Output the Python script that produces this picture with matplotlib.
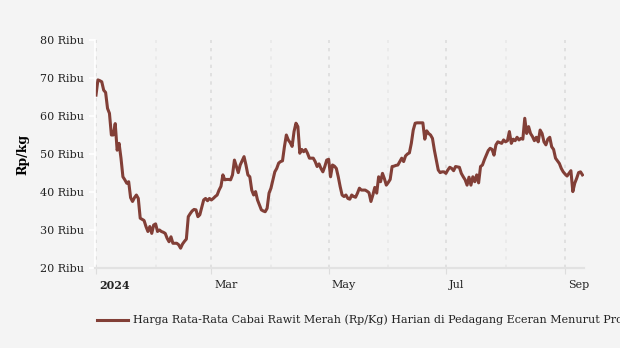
import pandas as pd
import matplotlib
matplotlib.use("Agg")
import matplotlib.pyplot as plt
import matplotlib.dates as mdates
import matplotlib.transforms as mtransforms

plt.rcParams['font.family'] = ['DejaVu Serif']

# daily average price (thousand Rp/kg), 1 Jan 2024 - 10 Sep 2024
start_date = "2024-01-01"
price = [
    65.5, 69.5, 69.3, 69.0, 66.8, 66.2, 62.0, 60.7, 55.0, 55.0,
    58.0, 51.0, 52.8, 48.9, 44.0, 43.2, 42.3, 42.7, 38.5, 37.5,
    38.5, 39.2, 38.3, 33.1, 32.8, 32.5, 30.9, 29.6, 30.9, 29.1,
    31.3, 31.6, 29.6, 30.0, 29.6, 29.4, 29.1, 27.8, 26.9, 28.2,
    26.5, 26.5, 26.5, 26.1, 25.2, 26.3, 27.0, 27.6, 33.5, 34.3,
    35.0, 35.4, 35.3, 33.5, 34.0, 36.0, 37.9, 38.3, 37.7, 38.3,
    37.9, 38.3, 38.8, 39.2, 40.5, 41.5, 44.5, 43.2, 43.3, 43.3,
    43.2, 44.5, 48.4, 46.7, 45.1, 47.1, 48.2, 49.3, 47.1, 44.5,
    44.0, 40.5, 39.2, 40.1, 37.9, 36.6, 35.3, 35.0, 34.8, 35.7,
    39.7, 41.0, 43.2, 45.3, 46.2, 47.6, 48.0, 48.2, 51.9, 55.0,
    53.7, 53.0, 52.0, 55.9, 58.1, 57.2, 50.2, 51.2, 50.6, 51.2,
    50.2, 48.9, 48.9, 48.9, 48.0, 46.7, 47.4, 46.2, 45.3, 46.7,
    48.4, 48.6, 44.0, 47.1, 46.8, 46.2, 44.0, 41.4, 39.2, 38.8,
    39.2, 38.3, 38.1, 39.2, 38.8, 38.6, 39.7, 41.0, 40.5, 40.5,
    40.5, 40.2, 39.8, 37.5, 39.2, 41.2, 39.7, 44.0, 42.7, 44.9,
    43.5, 41.8, 42.5, 43.3, 46.7, 46.8, 47.0, 47.1, 48.0, 48.9,
    48.0, 49.5, 50.0, 50.3, 52.8, 56.3, 58.1, 58.2, 58.2, 58.2,
    58.2, 53.9, 56.1, 55.4, 55.0, 54.1, 51.0, 48.4, 45.8, 45.1,
    45.3, 45.3, 44.9, 45.8, 46.5, 46.2, 45.6, 46.7, 46.6, 46.5,
    44.9, 44.0, 43.2, 41.8, 43.9, 41.8, 44.0, 42.7, 44.5, 42.4,
    46.7, 47.1, 48.5, 49.7, 50.9, 51.5, 51.2, 49.7, 52.4, 53.2,
    53.0, 52.8, 53.7, 53.2, 53.5, 55.9, 52.8, 53.9, 53.5, 54.4,
    53.7, 54.1, 53.9, 59.4, 55.4, 57.2, 55.4, 54.6, 53.5, 54.4,
    53.2, 56.3, 55.4, 53.2, 52.4, 53.9, 54.4, 51.9, 51.2, 48.9,
    48.2, 47.5, 46.2, 45.3, 44.7, 44.2, 44.9, 45.6, 40.1, 42.3,
    43.6, 45.1, 45.3, 44.5,
]
dates = pd.date_range(start_date, periods=len(price), freq="D")

y_ticks = [20, 30, 40, 50, 60, 70, 80]
y_labels = [f"{v} Ribu" for v in y_ticks]
series_name = ("Harga Rata-Rata Cabai Rawit Merah (Rp/Kg) Harian di Pedagang "
               "Eceran Menurut Provinsi")

bg = "#f4f4f4"
line_color = "#823f37"

fig = plt.figure(figsize=(6.2, 3.48), dpi=100, facecolor=bg)
ax = fig.add_axes([0.1539, 0.230, 0.788, 0.655], facecolor=bg)

ax.plot(dates, price, color=line_color, lw=2.2, label=series_name,
        solid_joinstyle="round")

ax.set_ylim(20, 80)
ax.set_yticks(y_ticks)
ax.set_yticklabels(y_labels, fontsize=8, color="#222222")
ax.set_ylabel("Rp/kg", fontsize=9, fontweight="bold", labelpad=8)

x0 = mdates.date2num(pd.Timestamp(start_date)) - 0.3
ax.set_xlim(x0, mdates.date2num(dates[-1]) + 0.8)

ax.xaxis.set_major_locator(mdates.MonthLocator(bymonth=[1, 3, 5, 7, 9]))
ax.xaxis.set_minor_locator(mdates.MonthLocator(bymonth=[2, 4, 6, 8]))


def month_label(x, pos):
    d = mdates.num2date(x)
    return str(d.year) if d.month == 1 else d.strftime("%b")


ax.xaxis.set_major_formatter(plt.FuncFormatter(month_label))
ax.tick_params(axis="x", which="major", labelsize=8, length=4,
               color="#dddddd", labelcolor="#222222", pad=5)
ax.tick_params(axis="x", which="minor", length=0)
ax.tick_params(axis="y", length=4, color="#ffffff", width=1.2, pad=4)

offset = mtransforms.ScaledTranslation(2 / 72, 0, fig.dpi_scale_trans)
for lbl in ax.get_xticklabels():
    lbl.set_horizontalalignment("left")
    lbl.set_transform(lbl.get_transform() + offset)
ax.get_xticklabels()[0].set_fontweight("bold")

ax.grid(axis="x", which="major", color="#dcdcdc", ls=(0, (2, 3)), lw=1.2)
ax.grid(axis="x", which="minor", color="#e8e8e8", ls=(0, (2, 3)), lw=1.2)
ax.grid(axis="y", visible=False)

for side in ["top", "right"]:
    ax.spines[side].set_visible(False)
ax.spines["left"].set_color("#ffffff")
ax.spines["left"].set_linewidth(1.2)
ax.spines["bottom"].set_color("#e2e2e2")
ax.spines["bottom"].set_linewidth(1.6)

fig.legend(loc="center left", bbox_to_anchor=(0.140, 0.08), frameon=False,
           fontsize=8, handlelength=2.8, handletextpad=0.45,
           labelcolor="#222222")

fig.savefig("out.png", dpi=100, facecolor=bg)
